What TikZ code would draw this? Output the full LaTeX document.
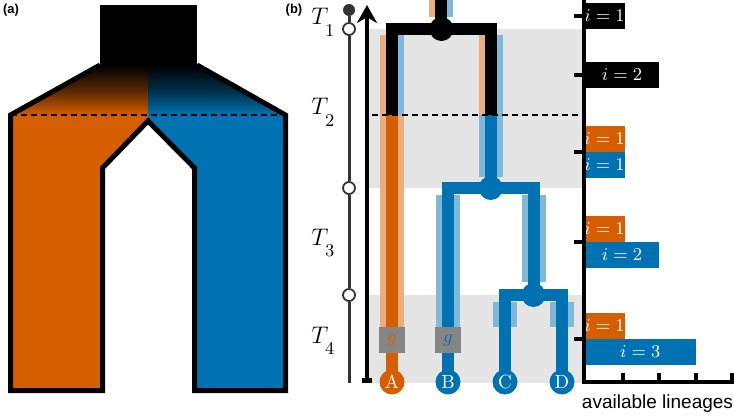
\documentclass[tikz,border=0pt]{standalone}
\usepackage{fontspec}
\newfontfamily\arialfont{Liberation Sans}
\usetikzlibrary{arrows.meta}
\definecolor{ora}{HTML}{D55E00}
\definecolor{blu}{HTML}{0072B2}
\definecolor{lora}{HTML}{EAAE80}
\definecolor{lblu}{HTML}{80B8D8}
\definecolor{band}{HTML}{E5E5E5}
\definecolor{gbox}{HTML}{858585}
\definecolor{tgray}{HTML}{333333}
\newcommand\tlab[1]{$T_{\raisebox{-.3em}{$\scriptstyle #1$}}$}

\begin{document}
\begin{tikzpicture}[x=0.5pt,y=-0.5pt,
  lin/.style={line width=6pt,line join=miter},
  inode/.style={circle,inner sep=0pt,minimum size=12pt},
  tip/.style={circle,inner sep=0pt,minimum size=12.5pt,text=white,font=\fontsize{9.5}{10}\selectfont},
  gtag/.style={fill=gbox,inner sep=0pt,minimum size=13pt,font=\fontsize{9.5}{10}\selectfont},
  tcirc/.style={circle,draw=tgray,fill=white,line width=0.9pt,inner sep=0pt,minimum size=6pt},
  tlabel/.style={anchor=base west,inner sep=0pt,font=\fontsize{13}{14}\selectfont},
  bar/.style={anchor=west,inner sep=0pt,minimum height=13pt,text=white,font=\fontsize{9}{10}\selectfont},
  axis/.style={line width=2pt,line join=miter},
  sep/.style={line width=1pt,dash pattern=on 3pt off 2pt},
  panel/.style={font=\arialfont\bfseries\fontsize{6.5}{7}\selectfont}]
\useasboundingbox (0,0) rectangle (734,417);

\node[panel] (pa) at (11,10) {(a)};
\fill (100,5) rectangle (197,65);
\shade[top color=black,bottom color=ora,middle color=ora!40!black] (100,65) -- (148,65) -- (148,115) -- (10.5,115) -- cycle;
\shade[top color=black,bottom color=blu,middle color=blu!40!black] (148,65) -- (197,65) -- (285.5,115) -- (148,115) -- cycle;
\fill[ora] (10.5,115) -- (148,115) -- (148,121) -- (102.5,168) -- (102.5,390.5) -- (10.5,390.5) -- cycle;
\fill[blu] (148,115) -- (285.5,115) -- (285.5,390.5) -- (194.5,390.5) -- (194.5,168) -- (148,121) -- cycle;
\draw[line width=2.5pt,line join=miter] (100,65) -- (10.5,115) -- (10.5,390.5) -- (102.5,390.5) -- (102.5,168) -- (148,121)
  -- (194.5,168) -- (194.5,390.5) -- (285.5,390.5) -- (285.5,115) -- (197,65);
\draw[sep] (10.5,115) -- (285.5,115);

\node[panel] (pb) at (294,10) {(b)};
\fill[band] (368,29) rectangle (583.5,188);
\fill[band] (368,295) rectangle (583.5,383);

\node[circle,fill=tgray,inner sep=0pt,minimum size=6pt] (t0) at (349,10) {};
\node[tcirc] (t1) at (349,29) {};
\node[tcirc] (t2) at (349,188) {};
\node[tcirc] (t3) at (349,295) {};
\coordinate (t4) at (349,383);
\draw[tgray,line width=1.5pt] (t0) -- (t1) -- (t2) -- (t3) -- (t4);
\node[tlabel] (T1) at (311,25) {\tlab1};
\node[tlabel] (T2) at (311,115) {\tlab2};
\node[tlabel] (T3) at (311,245) {\tlab3};
\node[tlabel] (T4) at (311,343) {\tlab4};

\coordinate (ab) at (367,383);
\coordinate (at) at (367,5);
\draw[line width=2.4pt,{Bar[width=5pt]}-{Stealth[length=9pt,width=10pt]}] (ab) -- (at);

\coordinate (cA) at (392,382);
\coordinate (cB) at (448,382);
\coordinate (cC) at (505,382);
\coordinate (cD) at (562,382);
\coordinate (cCD) at (533.5,295);
\coordinate (cBCD) at (490.75,188);
\coordinate (cR) at (441.4,29);
\coordinate (ctop) at (441.4,0);
\coordinate (sA) at (392,115);
\coordinate (sR) at (490.75,115);

\foreach \x/\ya/\yb in {441.4/0/17,392/35/115,490.75/35/115}{
  \fill[lora] (\x-12,\ya) rectangle (\x,\yb);
  \fill[lblu] (\x,\ya) rectangle (\x+12,\yb);}
\fill[lora] (380,115) rectangle (404,327);
\foreach \x/\ya/\yb in {490.75/115/177,448/195/327,533.5/195/282,505/302/327,562/302/327}
  \fill[lblu] (\x-12,\ya) rectangle (\x+12,\yb);

\draw[lin] (ctop) -- (cR);
\draw[lin] (sA) |- (cR) -| (sR);
\draw[lin,ora] (cA) -- (sA);
\draw[lin,blu] (sR) -- (cBCD);
\draw[lin,blu] (cB) |- (cBCD) -| (cCD);
\draw[lin,blu] (cC) |- (cCD) -| (cD);
\node[inode,fill=black] (nR) at (cR) {};
\node[inode,fill=blu] (nBCD) at (cBCD) {};
\node[inode,fill=blu] (nCD) at (cCD) {};
\node[gtag,text=ora] (gA) at (392,340) {$g$};
\node[gtag,text=blu] (gB) at (448,340) {$g$};
\foreach \n/\c in {A/ora,B/blu,C/blu,D/blu}
  \node[tip,fill=\c] (\n) at (c\n) {\n};
\draw[sep] (372,115) -- (583.5,115);

\foreach \y/\w/\c/\i in {16/1/black/1,75/2/black/2,139/1/ora/1,165/1/blu/1,229/1/ora/1,255/2/blu/2,326/1/ora/1,352/3/blu/3}
  \node[bar,fill=\c,minimum width=\w*18.25pt+1pt] (bar\y) at (584,\y) {$i=\i$};
\draw[axis] (583.5,0) -- (583.5,382) -- (734,382);
\foreach \k in {1,2,3,4}
  \draw[axis] (586+36.5*\k,382) -- ++(0,-9);
\foreach \y in {16,75,152,242,339}
  \draw[axis] (583.5,\y) -- ++(-10,0);
\node[font=\arialfont\fontsize{9.5}{11}\selectfont,anchor=base,inner sep=0pt] (xlab) at (657.5,408) {available lineages};
\end{tikzpicture}
\end{document}
